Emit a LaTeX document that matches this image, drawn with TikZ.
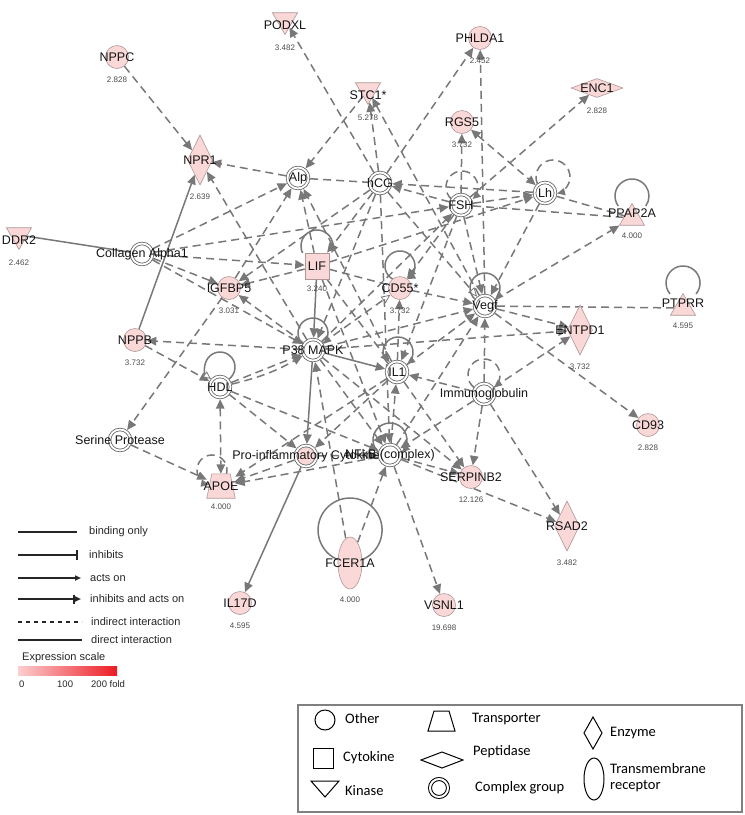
\documentclass[tikz,border=0pt]{standalone}
\usepackage{fontspec}
\setmainfont{Liberation Sans}
\newfontfamily\boxfont{Carlito}
\usepackage{tikz}
\usetikzlibrary{arrows.meta,positioning,shapes.geometric,backgrounds}
\usepackage{xcolor}
\definecolor{ipapink}{RGB}{250,216,216}
\definecolor{ipaline}{RGB}{176,150,150}
\definecolor{ipagray}{RGB}{120,120,120}
\definecolor{ipacplx}{RGB}{100,100,100}
\definecolor{ipatext}{RGB}{20,20,20}
\definecolor{ipaval}{RGB}{75,75,75}
\definecolor{scalelo}{RGB}{252,206,206}
\definecolor{scalehi}{RGB}{236,28,36}
\definecolor{boxgray}{RGB}{128,128,128}
\tikzset{
    gene/.style={draw=ipaline,fill=ipapink,line width=0.6pt,inner sep=0pt},
    other/.style={gene,circle,minimum size=23pt},
    kinase/.style={gene,regular polygon,regular polygon sides=3,shape border rotate=180,minimum size=29pt},
    phos/.style={gene,regular polygon,regular polygon sides=3,minimum size=29pt},
    cytok/.style={gene,rectangle,minimum width=24pt,minimum height=26pt},
    enzyme/.style={gene,diamond,minimum width=25pt,minimum height=50pt},
    pept/.style={gene,diamond,minimum width=52pt,minimum height=19pt},
    transp/.style={rectangle,inner sep=0pt,minimum width=28pt,minimum height=24pt},
    recep/.style={gene,ellipse,minimum width=24pt,minimum height=52pt},
    cplx/.style={circle,draw=ipacplx,line width=0.8pt,double=white,double distance=1.8pt,
        fill=white,inner sep=0pt,outer sep=1.7pt,minimum size=21pt},
    lbl/.style={font=\fontsize{12.5}{13}\selectfont,text=ipatext,inner sep=0pt},
    klbl/.style={lbl,yshift=-5pt},
    plbl/.style={lbl,yshift=5pt},
    val/.style={font=\fontsize{8}{9}\selectfont,text=ipaval,inner sep=0pt,yshift=-23pt},
    valt/.style={val,yshift=-14pt},
    kval/.style={val,yshift=-5pt},
    pval/.style={val,yshift=5pt},
    ia/.style={draw=ipagray,line width=1.5pt,dash pattern=on 8pt off 5pt,
        -{Triangle[length=9.5pt,width=8.5pt]}},
    iab/.style={ia,{Triangle[length=9.5pt,width=8.5pt]}-{Triangle[length=9.5pt,width=8.5pt]}},
    ib/.style={draw=ipagray,line width=1.5pt,dash pattern=on 8pt off 5pt},
    io/.style={ib,-{Triangle[length=9pt,width=8pt,fill=white,line width=0.8pt]}},
    da/.style={draw=ipagray,line width=1.5pt,-{Triangle[length=9.5pt,width=8.5pt]}},
    db/.style={draw=ipagray,line width=1.5pt},
    lps/.style={draw=ipagray,line width=1.5pt},
    lpd/.style={lps,dash pattern=on 8pt off 5pt},
    lgl/.style={draw=black!85,line width=1.6pt},
    lgt/.style={font=\fontsize{11}{12}\selectfont,text=black!85,anchor=west,inner sep=0pt},
    lgs/.style={draw=black,line width=1pt,fill=white,inner sep=0pt},
    lgb/.style={font=\boxfont\fontsize{14.5}{16}\selectfont,anchor=west,inner sep=0pt,align=left}
}

\begin{document}
\begin{tikzpicture}[x=1pt,y=1pt]
\useasboundingbox (0,0) rectangle (745,-815);

% molecules
\node[other,label={[lbl]center:NPPC},label={[val]center:2.828}] (nppc) at (117,-57) {};
\node[kinase,label={[klbl]center:PODXL},label={[kval]center:3.482}] (podxl) at (285,-20) {};
\node[kinase,label={[klbl]center:STC1*},label={[kval]center:5.278}] (stc) at (368,-90) {};
\node[other,label={[lbl]center:PHLDA1},label={[val]center:2.452}] (phlda) at (480,-38) {};
\node[pept,label={[lbl]center:ENC1},label={[val]center:2.828}] (encone) at (597,-88) {};
\node[other,label={[lbl]center:RGS5},label={[val]center:3.732}] (rgs) at (462,-122) {};
\node[enzyme,label={[lbl]center:NPR1},label={[valt]center:2.639}] (npr) at (200,-160) {};
\node[cplx,label={[lbl]center:Alp}] (alp) at (298,-178) {};
\node[cplx,label={[lbl]center:hCG}] (hcg) at (380,-183) {};
\node[cplx,label={[lbl]center:FSH}] (fsh) at (461,-205) {};
\node[cplx,label={[lbl]center:Lh}] (lh) at (545,-193) {};
\node[phos,label={[plbl]center:PPAP2A},label={[pval]center:4.000}] (ppap) at (632,-218) {};
\node[kinase,label={[klbl]center:DDR2},label={[kval]center:2.462}] (ddr) at (19,-235) {};
\node[cplx,label={[lbl]center:Collagen Alpha1}] (col) at (142,-254) {};
\node[cytok,label={[lbl]center:LIF},label={[val]center:3.240}] (lif) at (317,-266) {};
\node[other,label={[lbl]center:IGFBP5},label={[val]center:3.031}] (igf) at (229,-288) {};
\node[other,label={[lbl]center:CD55*},label={[val]center:3.732}] (cd) at (400,-288) {};
\node[cplx,label={[lbl]center:Vegf}] (vegf) at (485,-306) {};
\node[phos,label={[plbl]center:PTPRR},label={[pval]center:4.595}] (ptprr) at (683,-308) {};
\node[enzyme,label={[lbl]center:ENTPD1},label={[valt]center:3.732}] (entpd) at (580,-330) {};
\node[other,label={[lbl]center:NPPB},label={[val]center:3.732}] (nppb) at (135,-340) {};
\node[cplx,label={[lbl]center:P38 MAPK}] (p38) at (313,-350) {};
\node[cplx,label={[lbl]center:IL1}] (ilone) at (397,-372) {};
\node[cplx,label={[lbl]center:HDL}] (hdl) at (220,-387) {};
\node[cplx,label={[lbl]center:Immunoglobulin}] (immu) at (484,-394) {};
\node[cplx,label={[lbl]center:Serine Protease}] (serine) at (120,-440) {};
\node[cplx,label={[lbl]center:NFkB (complex)}] (nfkb) at (390,-455) {};
\node[cplx,fill=ipapink,label={[lbl]center:Pro-inflammatory Cytokine}] (proinf) at (306,-456) {};
\node[other,label={[lbl]center:SERPINB2},label={[val]center:12.126}] (serpin) at (471,-477) {};
\node[other,label={[lbl]center:CD93},label={[val]center:2.828}] (cdnt) at (648,-425) {};
\node[transp,label={[lbl]center:APOE},label={[val,yshift=2pt]center:4.000}] (apoe) at (221,-486) {};
\node[enzyme,label={[lbl]center:RSAD2},label={[valt]center:3.482}] (rsad) at (567,-526) {};
\node[recep,label={[lbl]center:FCER1A},label={[valt]center:4.000}] (fcer) at (350,-563) {};
\node[other,label={[lbl]center:VSNL1},label={[val]center:19.698}] (vsnl) at (444,-605) {};
\node[other,label={[lbl]center:IL17D},label={[val]center:4.595}] (il17) at (240,-603) {};

\begin{scope}[on background layer]
\draw[ia] (nppc) -- (npr);
\draw[ia] (alp) -- (npr);
\draw[ia] (p38) -- (npr);
\draw[da] (nppb) -- (npr);
\draw[db] (ddr) -- (col);
\draw[ia] (hcg) -- (podxl);
\draw[ia] (stc) -- (alp);
\draw[ia] (col) -- (alp);
\draw[ia] (igf) -- (alp);
\draw[ia] (lif) -- (alp);
\draw[ia] (ilone) -- (alp);
\draw[ib] (alp) -- (hcg);
\draw[ia] (hcg) -- (phlda);
\draw[ia] (hcg) -- (stc);
\draw[ia] (vegf) -- (stc);
\draw[ia] (fsh) -- (hcg);
\draw[ia] (lh) -- (hcg);
\draw[ia] (fsh) -- (rgs);
\draw[iab] (rgs) -- (lh);
\draw[ia] (vegf) -- (phlda);
\draw[ia] (fsh) -- (encone);
\draw[ia] (fsh) -- (lh);
\draw[ia] (lif) -- (lh);
\draw[ib] (lh) -- (ppap);
\draw[ib] (fsh) -- (ppap);
\draw[ia] (vegf) -- (ppap);
\draw[ib] (vegf) -- (ptprr);
\draw[ia] (vegf) -- (entpd);
\draw[ia] (immu) -- (entpd);
\draw[ia] (p38) -- (entpd);
\draw[ia] (vegf) -- (cdnt);
\draw[ia] (lh) -- (vegf);
\draw[io] (hcg) -- (vegf);
\draw[ia] (fsh) -- (vegf);
\draw[ia] (cd) -- (vegf);
\draw[ia] (immu) -- (vegf);
\draw[ia] (immu) -- (ilone);
\draw[ia] (immu) -- (serpin);
\draw[ia] (immu) -- (rsad);
\draw[ia] (immu) -- (nfkb);
\draw[ia] (nfkb) -- (serpin);
\draw[ia] (nfkb) -- (rsad);
\draw[ia] (nfkb) -- (vsnl);
\draw[ia] (fcer) -- (nfkb);
\draw[ia] (fcer) -- (p38);
\draw[ia] (p38) -- (nppb);
\draw[ia] (nppb) -- (hdl);
\draw[iab] (hdl) -- (apoe);
\draw[ia] (hdl) -- (p38);
\draw[ia] (hdl) to[bend right=8] (p38);
\draw[ia] (hdl) -- (proinf);
\draw[ia] (hdl) -- (nfkb);
\draw[ia] (serine) -- (apoe);
\draw[ia] (igf) -- (serine);
\draw[ia] (col) -- (igf);
\draw[ia] (col) -- (lif);
\draw[ia] (col) -- (p38);
\draw[ia] (col) -- (fsh);
\draw[ia] (p38) -- (igf);
\draw[ia] (lif) -- (igf);
\draw[ia] (hcg) -- (igf);
\draw[ia] (hcg) -- (lif);
\draw[ib] (lif) -- (cd);
\draw[ia] (lif) -- (ilone);
\draw[ia] (lif) -- (nfkb);
\draw[io] (p38) -- (cd);
\draw[ia] (ilone) -- (vegf);
\draw[ia] (nfkb) -- (vegf);
\draw[ia] (p38) -- (vegf);
\draw[ia] (nfkb) -- (ilone);
\draw[ia] (ilone) -- (proinf);
\draw[ia] (ilone) -- (apoe);
\draw[ia] (p38) -- (nfkb);
\draw[ia] (p38) -- (serpin);
\draw[ia] (ilone) -- (serpin);
\draw[ia] (proinf) -- (nfkb);
\draw[ia] (nfkb) -- (apoe);
\draw[ia] (proinf) -- (apoe);
\draw[ia] (ilone) -- (cd);
\draw[ia] (hcg) -- (p38);
\draw[ia] (hcg) -- (nfkb);
\draw[ia] (fsh) -- (cd);
\draw[ia] (fsh) -- (ilone);
\draw[ia] (p38) -- (fsh);
\draw[da] (proinf) -- (il17);
\draw[da] (p38) -- (proinf);
\draw[da] (lif) -- (p38);
\draw[da] (p38) -- (ilone);

% self loops
\draw[lps,-{Triangle[length=8pt,width=7pt]}] (lif) ++(-14.4,13) arc[start angle=206,end angle=-26,radius=16];
\draw[lps,-{Triangle[length=8pt,width=7pt]}] (cd) ++(-7.3,8.9) arc[start angle=241,end angle=-61,radius=15];
\draw[lps,-{Triangle[length=8pt,width=7pt]}] (p38) ++(-10.3,6.1) arc[start angle=226.5,end angle=-46.5,radius=15];
\draw[lps,-{Triangle[length=8pt,width=7pt]}] (ilone) ++(-8,8) arc[start angle=233,end angle=-53,radius=15];
\draw[lps,{Triangle[length=8pt,width=7pt,fill=white,line width=0.8pt]}-] (hdl) ++(-9,8) arc[start angle=233,end angle=-53,radius=15];
\draw[lps,-{Triangle[length=8pt,width=7pt]}] (vegf) ++(-9.9,6.75) arc[start angle=228.6,end angle=-48.6,radius=15];
\draw[lps,-{Triangle[length=8pt,width=7pt]}] (nfkb) ++(-11.7,2.7) arc[start angle=226.5,end angle=-46.5,radius=17];
\draw[lps] (ppap) ++(-13.75,12) arc[start angle=216,end angle=-36,radius=17];
\draw[lps] (ptprr) ++(-13,14.1) arc[start angle=220,end angle=-40,radius=17];
\draw[lps] (fcer) ++(-10.9,2.9) arc[start angle=250,end angle=-70,radius=32];
\draw[lpd,-{Triangle[length=8pt,width=7pt]}] (fsh) ++(-9.5,5.9) arc[start angle=229,end angle=-49,radius=16];
\draw[lpd,-{Triangle[length=8pt,width=7pt]}] (lh) ++(-7.6,9.3) arc[start angle=203.3,end angle=-76.5,radius=17];
\draw[lpd,-{Triangle[length=8pt,width=7pt]}] (immu) ++(-10.1,6.6) arc[start angle=231,end angle=-51,radius=16];
\draw[lpd,-{Triangle[length=8pt,width=7pt]}] (apoe) ++(5.1,10.9) arc[start angle=-20,end angle=258.8,radius=15];
% transporter body
\draw[gene] (apoe.south west) -- (apoe.south east) -- ([xshift=-5pt]apoe.north east)
    -- ([xshift=5pt]apoe.north west) -- cycle;
\end{scope}

% line legend
\coordinate (bo1) at (18,-532); \coordinate (bo2) at (77,-532);
\coordinate (in1) at (18,-555); \coordinate (in2) at (78,-555);
\coordinate (ac1) at (18,-578); \coordinate (ac2) at (81,-578);
\coordinate (ia1) at (18,-599); \coordinate (ia2) at (81,-599);
\coordinate (ii1) at (18,-622); \coordinate (ii2) at (82,-622);
\coordinate (di1) at (18,-640); \coordinate (di2) at (82,-640);
\draw[lgl] (bo1) -- (bo2);
\draw[lgl,-{Bar[width=10pt]}] (in1) -- (in2);
\draw[lgl,-{Triangle[length=6pt,width=5pt]}] (ac1) -- (ac2);
\draw[lgl,-{Bar[width=9pt] Triangle[length=6pt,width=5pt]}] (ia1) -- (ia2);
\draw[lgl,dash pattern=on 4pt off 4pt] (ii1) -- (ii2);
\draw[lgl] (di1) -- (di2);
\node[lgt] (tbo) at (89,-532) {binding only};
\node[lgt] (tin) at (89,-555) {inhibits};
\node[lgt] (tac) at (90,-578) {acts on};
\node[lgt] (tia) at (90,-599) {inhibits and acts on};
\node[lgt] (tii) at (91,-622) {indirect interaction};
\node[lgt] (tdi) at (91,-640) {direct interaction};

% expression scale
\node[lgt] (exs) at (22,-658) {Expression scale};
\shade[left color=scalelo,right color=scalehi] (18,-666) rectangle (117,-675);
\node[lgt,font=\fontsize{9.5}{10}\selectfont] (sc0) at (19,-684) {0};
\node[lgt,font=\fontsize{9.5}{10}\selectfont] (sc1) at (57,-684) {100};
\node[lgt,font=\fontsize{9.5}{10}\selectfont] (sc2) at (91,-684) {200 fold};

% shape legend
\draw[boxgray,line width=1.2pt] (298,-705) rectangle (742,-812);
\node[lgs,circle,minimum size=20pt] (kOther) at (325,-720) {};
\node[lgs,minimum size=20pt] (kCyto) at (323,-758) {};
\draw[lgs] (311,-781) -- (339,-781) -- (325,-797) -- cycle;
\draw[lgs] (428,-731) -- (455,-731) -- (449,-711) -- (434,-711) -- cycle;
\draw[lgs] (421,-760) -- (442,-752) -- (463,-760) -- (442,-768) -- cycle;
\node[lgs,circle,double,double distance=2pt,minimum size=18pt] (kCplx) at (439,-788) {};
\draw[lgs] (593,-717) -- (602,-733) -- (593,-749) -- (584,-733) -- cycle;
\node[lgs,ellipse,minimum width=20pt,minimum height=42pt] (kRecep) at (594,-779) {};
\node[lgb] (tOther) at (345,-719) {Other};
\node[lgb] (tCyto) at (343,-758) {Cytokine};
\node[lgb] (tKin) at (345,-791) {Kinase};
\node[lgb] (tTrans) at (472,-719) {Transporter};
\node[lgb] (tPep) at (473,-752) {Peptidase};
\node[lgb] (tCplx) at (475,-788) {Complex group};
\node[lgb] (tEnz) at (610,-733) {Enzyme};
\node[lgb] (tRec) at (610,-778) {Transmembrane\\receptor};

\end{tikzpicture}
\end{document}
